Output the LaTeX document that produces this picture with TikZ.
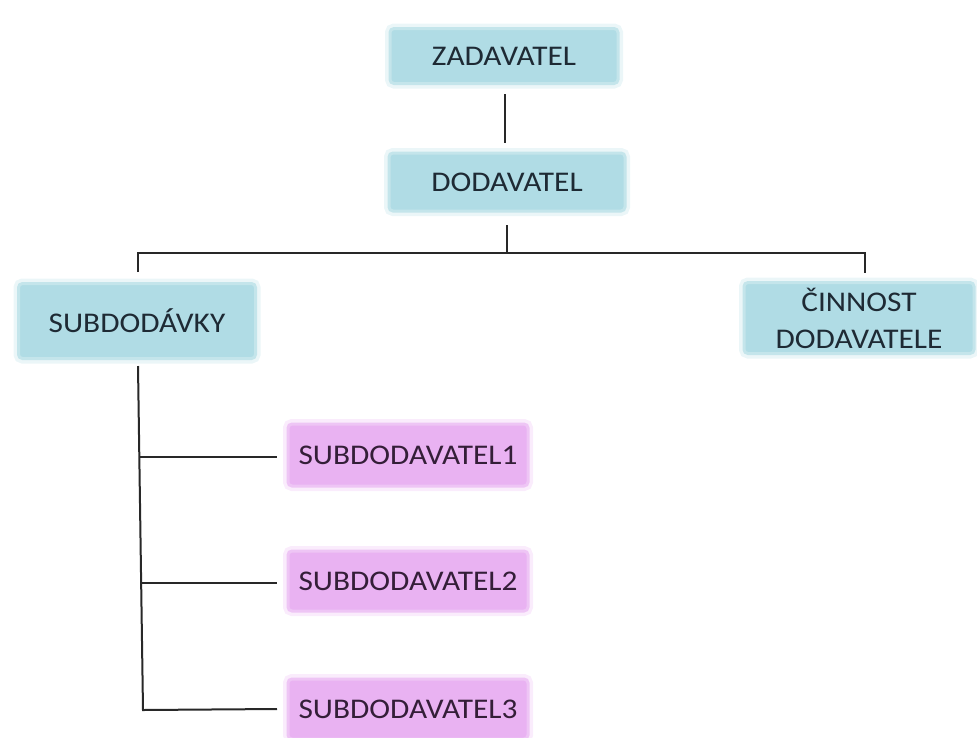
\documentclass[tikz,border=0pt]{standalone}
\usepackage{fontspec}
\setmainfont[FakeStretch=1.1]{Carlito}
\definecolor{boxblue}{RGB}{176,220,229}
\definecolor{boxpink}{RGB}{233,178,242}
\definecolor{txtblue}{RGB}{30,42,52}
\definecolor{txtpink}{RGB}{52,30,56}
\definecolor{linegray}{RGB}{40,40,40}
\begin{document}
\begin{tikzpicture}[x=1pt,y=-1pt,
  bbox/.style={fill=boxblue, draw=boxblue!75, line width=3pt, rounded corners=4pt,
    preaction={draw=boxblue!25, line width=10pt, rounded corners=6pt},
    text=txtblue, font=\fontsize{28.5}{37}\selectfont, align=center, inner sep=0pt},
  pbox/.style={fill=boxpink, draw=boxpink!75, line width=3pt, rounded corners=4pt,
    preaction={draw=boxpink!25, line width=10pt, rounded corners=6pt},
    text=txtpink, font=\fontsize{28.5}{37}\selectfont, align=center, inner sep=0pt,
    minimum width=240pt},
  conn/.style={draw=linegray, line width=2pt}]
\useasboundingbox (0,0) rectangle (977,737);
\node[bbox, minimum width=228pt, minimum height=55pt] (Z) at (504,56) {ZADAVATEL};
\node[bbox, minimum width=236pt, minimum height=58pt] (D) at (507,182) {DODAVATEL};
\node[bbox, minimum width=237pt, minimum height=75pt] (S) at (137,321) {SUBDODÁVKY};
\node[bbox, minimum width=230pt, minimum height=71pt] (C) at (859,318) {ČINNOST\\DODAVATELE};
\node[pbox, minimum height=62pt] (s1) at (408,455) {SUBDODAVATEL1};
\node[pbox, minimum height=60pt] (s2) at (408,581) {SUBDODAVATEL2};
\node[pbox, minimum height=60pt] (s3) at (408,709) {SUBDODAVATEL3};
\coordinate (bus) at (507,253);
\coordinate (cdrop) at (865,253);
\coordinate (sdrop) at (138,253);
\draw[conn, shorten <=9pt, shorten >=9pt] (505,85) -- (505,152);
\draw[conn] (D.south |- 0,225) -- (bus);
\draw[conn] (138,272) -- (sdrop) -- (cdrop) -- (865,273);
\draw[conn] (138,366) -- (143,710) -- (s3.west -| 277,0);
\draw[conn] (139,457) -- (277,457);
\draw[conn] (141,583) -- (277,583);
\end{tikzpicture}
\end{document}
